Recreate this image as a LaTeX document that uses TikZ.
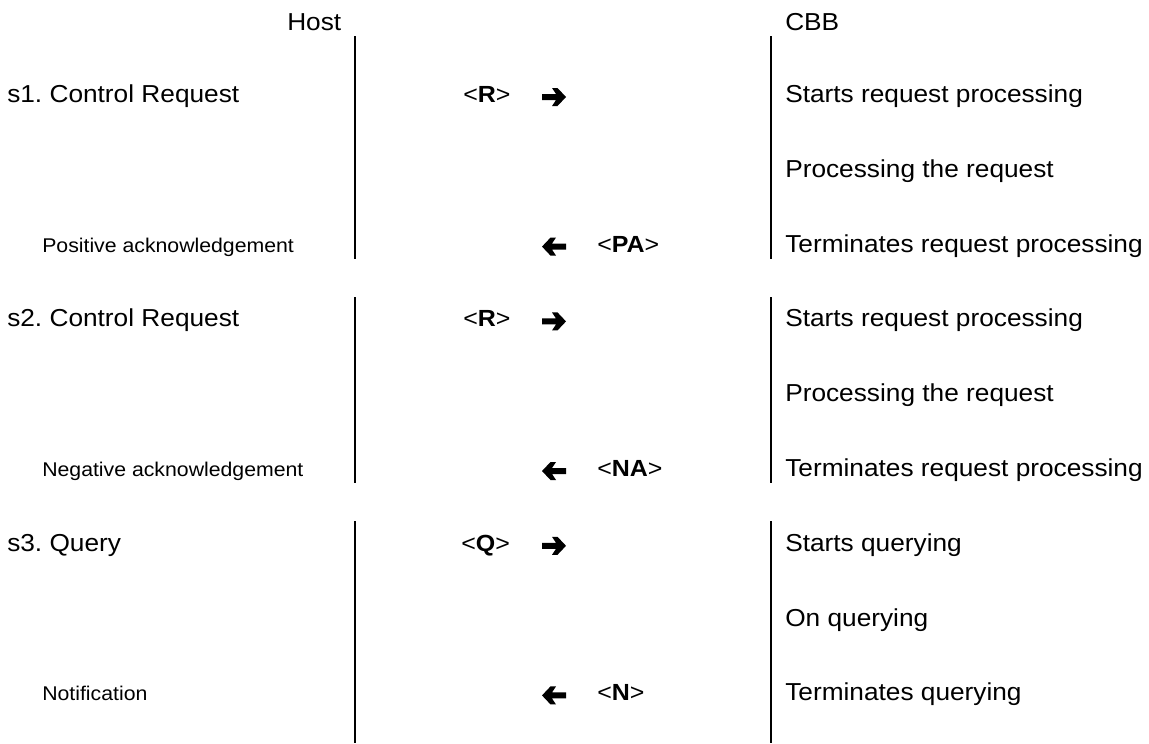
\documentclass[tikz,border=0pt]{standalone}
\usepackage{fontspec}
\setmainfont{Liberation Sans}[FakeStretch=1.07]
\frenchspacing
\begin{document}
\begin{tikzpicture}[x=0.75pt,y=-0.75pt,
  main/.style={anchor=base west,inner sep=0pt,font=\fontsize{18.4}{22}\selectfont},
  small/.style={anchor=base west,inner sep=0pt,font=\fontsize{14.9}{18}\selectfont},
  msg/.style={anchor=base west,inner sep=0pt,font=\fontsize{17.5}{21}\selectfont},
  lifeline/.style={line width=1.5pt},
  rarrow/.pic={\fill (0,-3) -- (14,-3) -- (10,-9) -- (15.5,-9) -- (24,0) -- (15.5,9) -- (10,9) -- (14,3) -- (0,3) -- cycle;},
  larrow/.pic={\fill (24,-3) -- (10,-3) -- (14,-9) -- (8.5,-9) -- (0,0) -- (8.5,9) -- (14,9) -- (10,3) -- (24,3) -- cycle;}]
\useasboundingbox (0,0) rectangle (1149,743);

% column headers
\node[main] (host) at (287,30) {Host};
\node[main] (cbb)  at (785,30) {CBB};

% lifelines, one segment per scenario
\coordinate (h1t) at (355,36);  \coordinate (h1b) at (355,259);
\coordinate (h2t) at (355,297); \coordinate (h2b) at (355,483);
\coordinate (h3t) at (355,521); \coordinate (h3b) at (355,743);
\coordinate (c1t) at (771,36);  \coordinate (c1b) at (771,259);
\coordinate (c2t) at (771,297); \coordinate (c2b) at (771,483);
\coordinate (c3t) at (771,521); \coordinate (c3b) at (771,743);
\draw[lifeline] (h1t) -- (h1b);
\draw[lifeline] (h2t) -- (h2b);
\draw[lifeline] (h3t) -- (h3b);
\draw[lifeline] (c1t) -- (c1b);
\draw[lifeline] (c2t) -- (c2b);
\draw[lifeline] (c3t) -- (c3b);

% host side
\node[main]  (s1)  at (7,102.5)  {s1. Control Request};
\node[small] (pa)  at (42,252.1) {Positive acknowledgement};
\node[main]  (s2)  at (7,326.9)  {s2. Control Request};
\node[small] (na)  at (42,476.5) {Negative acknowledgement};
\node[main]  (s3)  at (7,551.3)  {s3. Query};
\node[small] (nt)  at (42,700.9) {Notification};

% messages
\node[msg] (m1) at (463,102.5) {<\textbf{R}>};
\pic at (542,97) {rarrow};
\pic at (542,246.6) {larrow};
\node[msg] (m2) at (597,252.1) {<\textbf{PA}>};
\node[msg] (m3) at (463,326.9) {<\textbf{R}>};
\pic at (542,321.4) {rarrow};
\pic at (542,471) {larrow};
\node[msg] (m4) at (597,476.5) {<\textbf{NA}>};
\node[msg] (m5) at (461,551.3) {<\textbf{Q}>};
\pic at (542,545.8) {rarrow};
\pic at (542,695.4) {larrow};
\node[msg] (m6) at (597,700.9) {<\textbf{N}>};

% CBB side
\node[main] (r1) at (785,102.5) {Starts request processing};
\node[main] (r2) at (785,177.3) {Processing the request};
\node[main] (r3) at (785,252.1) {Terminates request processing};
\node[main] (r4) at (785,326.9) {Starts request processing};
\node[main] (r5) at (785,401.7) {Processing the request};
\node[main] (r6) at (785,476.5) {Terminates request processing};
\node[main] (r7) at (785,551.3) {Starts querying};
\node[main] (r8) at (785,626.1) {On querying};
\node[main] (r9) at (785,700.9) {Terminates querying};
\end{tikzpicture}
\end{document}
